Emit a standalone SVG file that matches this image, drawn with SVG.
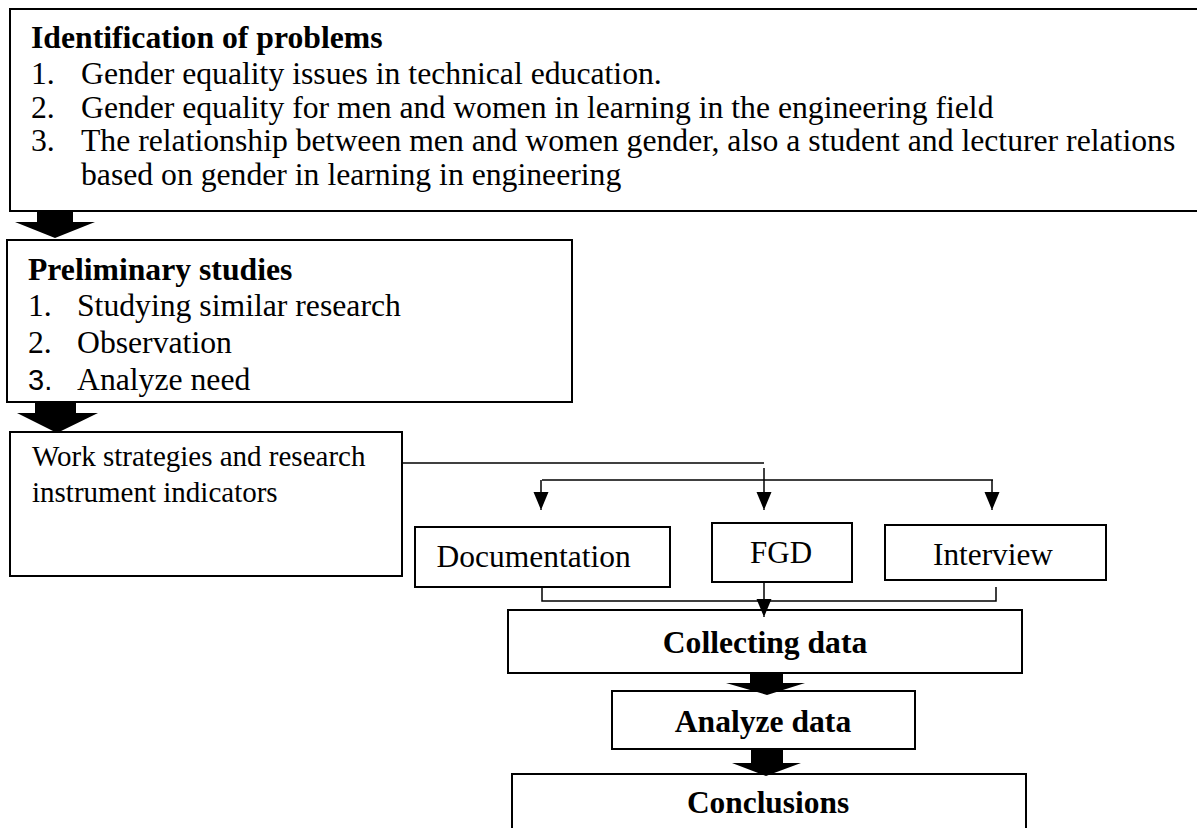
<svg xmlns="http://www.w3.org/2000/svg" width="1197" height="828" viewBox="0 0 1197 828">
<style>
.box{fill:#fff;stroke:#000;stroke-width:2}
.t{font-family:"Liberation Serif","Times New Roman",serif;fill:#000}
.b{font-weight:bold}
.c{fill:none;stroke:#000;stroke-width:1.5}
.blk{fill:#000}
</style>
<defs>
<marker id="ah" markerUnits="userSpaceOnUse" markerWidth="16" markerHeight="16" refX="18" refY="7.5" orient="auto">
<path d="M0,0 L18,7.5 L0,15 z" fill="#000"/>
</marker>
</defs>
<rect width="1197" height="828" fill="#fff"/>

<g id="n-problems">
<rect class="box" x="10" y="9" width="1200" height="202"/>
<g class="t" font-size="31.7">
<text class="t b" x="31" y="48">Identification of problems</text>
<text x="31" y="84">1.</text><text x="81" y="84">Gender equality issues in technical education.</text>
<text x="31" y="118">2.</text><text x="81" y="118">Gender equality for men and women in learning in the engineering field</text>
<text x="31" y="151">3.</text><text x="81" y="151">The relationship between men and women gender, also a student and lecturer relations</text>
<text x="81" y="185">based on gender in learning in engineering</text>
</g>
</g>

<g id="n-preliminary">
<rect class="box" x="7" y="240" width="565" height="162"/>
<g class="t" font-size="31.7">
<text class="t b" x="28" y="280">Preliminary studies</text>
<text x="28" y="316">1.</text><text x="77" y="316">Studying similar research</text>
<text x="28" y="353">2.</text><text x="77" y="353">Observation</text>
<text x="28" y="390" font-family="Liberation Sans, Arial, sans-serif" font-size="29">3.</text><text x="77" y="390">Analyze need</text>
</g>
</g>

<g id="n-strategies">
<rect class="box" x="10" y="432" width="392" height="144"/>
<g class="t" font-size="29">
<text x="32" y="466">Work strategies and research</text>
<text x="32" y="502">instrument indicators</text>
</g>
</g>

<g id="n-documentation">
<rect class="box" x="415" y="527" width="255" height="60"/>
<text class="t" font-size="31.5" x="436.5" y="567">Documentation</text>
</g>

<g id="n-fgd">
<rect class="box" x="712" y="523" width="140" height="59"/>
<text class="t" font-size="31" x="750" y="563">FGD</text>
</g>

<g id="n-interview">
<rect class="box" x="885" y="525" width="221" height="55"/>
<text class="t" font-size="31.3" x="933" y="565">Interview</text>
</g>

<g id="n-collecting">
<rect class="box" x="508" y="610" width="514" height="63"/>
<text class="t b" font-size="31.6" x="765" y="653" text-anchor="middle">Collecting data</text>
</g>

<g id="n-analyze">
<rect class="box" x="612" y="691" width="303" height="58"/>
<text class="t b" font-size="31.6" x="763" y="732" text-anchor="middle">Analyze data</text>
</g>

<g id="n-conclusions">
<rect class="box" x="512" y="774" width="514" height="70"/>
<text class="t b" font-size="31.4" x="768" y="813" text-anchor="middle">Conclusions</text>
</g>

<g id="connectors">
<path class="blk" d="M37,211 H73 V222 H95 L55,238 L15,222 H37 Z"/>
<path class="blk" d="M35,402 H76 V413 H98 L57,433 L17,413 H35 Z"/>
<path class="blk" d="M750,673 H783 V683 H805 L767,695 L726,683 H750 Z"/>
<path class="blk" d="M751,749 H783 V763 H801 L766,776 L732,763 H751 Z"/>
<path class="c" d="M402,463 H764"/>
<path class="c" d="M542,480 H993"/>
<path class="c" d="M764,468 V510" marker-end="url(#ah)"/>
<path class="c" d="M541,480 V510" marker-end="url(#ah)"/>
<path class="c" d="M992,480 V510" marker-end="url(#ah)"/>
<path class="c" d="M542,587 V601 H996 V587"/>
<path class="c" d="M764,582 V617" marker-end="url(#ah)"/>
</g>
</svg>
